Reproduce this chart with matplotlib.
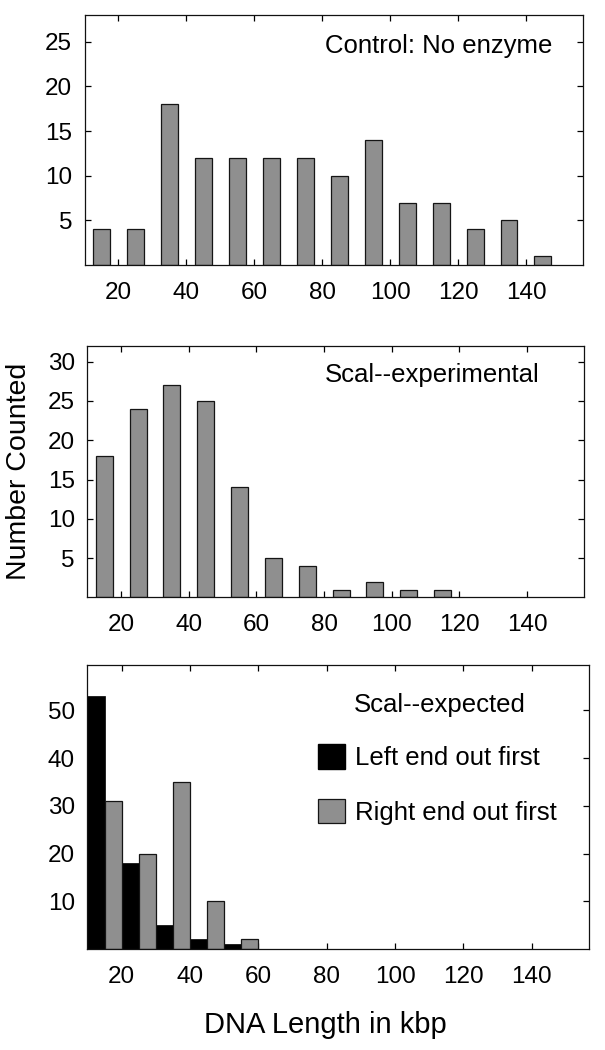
import numpy as np
import matplotlib
matplotlib.use("Agg")
import matplotlib.pyplot as plt
from matplotlib.patches import Patch

plt.rcParams['font.family'] = ['Liberation Sans', 'DejaVu Sans']

# bin centres (kbp) and counts
control_x = [15, 25, 35, 45, 55, 65, 75, 85, 95, 105, 115, 125, 135, 145]
control_n = [4, 4, 18, 12, 12, 12, 12, 10, 14, 7, 7, 4, 5, 1]

exp_x = [15, 25, 35, 45, 55, 65, 75, 85, 95, 105, 115]
exp_n = [18, 24, 27, 25, 14, 5, 4, 1, 2, 1, 1]

# expected: left end out first / right end out first (bin left edges)
left_x = [10, 20, 30, 40, 50]
left_n = [53, 18, 5, 2, 1]
right_x = [15, 25, 35, 45, 55]
right_n = [31, 20, 35, 10, 2]

xticks = [20, 40, 60, 80, 100, 120, 140]

gray = '#8f8f8f'
edge = '#151515'
tick_fs = 17.5
txt_fs = 18.5

fig = plt.figure(figsize=(6.05, 10.5), dpi=100)
ax1 = fig.add_axes([0.1397, 0.7476, 0.824, 0.2381])
ax2 = fig.add_axes([0.1443, 0.4310, 0.821, 0.2395])
ax3 = fig.add_axes([0.1446, 0.0962, 0.8294, 0.2705])


def style(ax, yticks, ylim):
    ax.set_xlim(10, 156.8)
    ax.set_ylim(*ylim)
    ax.set_xticks(xticks)
    ax.set_yticks(yticks)
    ax.tick_params(direction='in', top=True, right=True, length=4.5, width=0.9,
                   labelsize=tick_fs, colors='black')
    ax.tick_params(axis='x', pad=12)
    ax.tick_params(axis='y', pad=9)
    for s in ax.spines.values():
        s.set_linewidth(0.9)
        s.set_color('#111111')


# Control
ax1.bar(control_x, control_n, width=5, color=gray, edgecolor=edge, linewidth=0.9)
style(ax1, [5, 10, 15, 20, 25], (0, 28))
ax1.text(0.938, 0.847, 'Control: No enzyme', transform=ax1.transAxes,
         ha='right', va='baseline', fontsize=txt_fs)

# Scal experimental
ax2.bar(exp_x, exp_n, width=5, color=gray, edgecolor=edge, linewidth=0.9)
style(ax2, [5, 10, 15, 20, 25, 30], (0, 32))
ax2.text(0.911, 0.857, 'Scal--experimental', transform=ax2.transAxes,
         ha='right', va='baseline', fontsize=txt_fs)

# Scal expected
ax3.set_axisbelow(True)
ax3.bar(left_x, left_n, width=5, align='edge', color='black', edgecolor='black', linewidth=0.5)
ax3.bar(right_x, right_n, width=5, align='edge', color=gray, edgecolor=edge, linewidth=0.9)
style(ax3, [10, 20, 30, 40, 50], (0, 59.5))
ax3.text(0.874, 0.836, 'Scal--expected', transform=ax3.transAxes,
         ha='right', va='baseline', fontsize=txt_fs)
handles = [Patch(facecolor='black', edgecolor='black', label='Left end out first'),
           Patch(facecolor=gray, edgecolor=edge, linewidth=0.9, label='Right end out first')]
ax3.legend(handles=handles, loc='upper left', bbox_to_anchor=(0.459, 0.722),
           frameon=False, fontsize=txt_fs, handlelength=1.05, handleheight=1.1,
           handletextpad=0.4, labelspacing=1.12, borderpad=0, borderaxespad=0)

fig.text(19 / 605, 0.5514, 'Number Counted', rotation=90, ha='center', va='center',
         fontsize=20.5)
fig.text(325.5 / 605, 0.0238, 'DNA Length in kbp', ha='center', va='center',
         fontsize=21)

plt.savefig('out.png', dpi=100)
